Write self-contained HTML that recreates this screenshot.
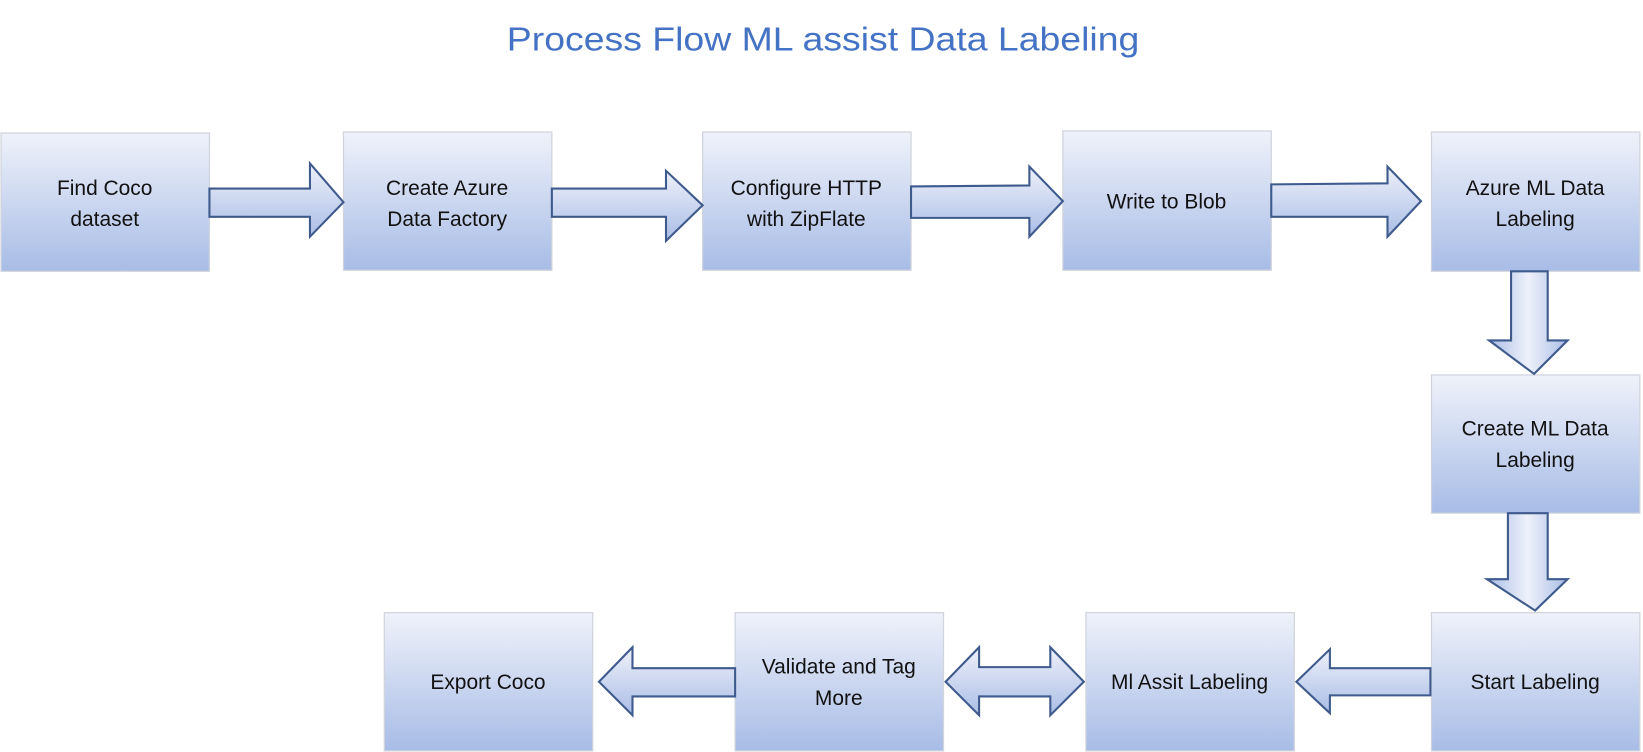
<!DOCTYPE html>
<html><head><meta charset="utf-8"><style>
html,body{margin:0;padding:0;background:#fff;}
svg{display:block;}
text{font-family:"Liberation Sans",sans-serif;}
</style></head><body>
<svg width="1643" height="752" viewBox="0 0 1569 718" xmlns="http://www.w3.org/2000/svg">
<defs>
<linearGradient id="bg" x1="0" y1="0" x2="0" y2="1">
<stop offset="0" stop-color="#eff2fa"/><stop offset="1" stop-color="#a8bce6"/>
</linearGradient>
<linearGradient id="ah" x1="0" y1="0" x2="0" y2="1">
<stop offset="0" stop-color="#eef1fa"/><stop offset="1" stop-color="#aabde6"/>
</linearGradient>
<linearGradient id="av" x1="0" y1="0" x2="1" y2="0">
<stop offset="0" stop-color="#aabde6"/><stop offset="0.5" stop-color="#eef1fa"/><stop offset="1" stop-color="#aabde6"/>
</linearGradient>
</defs>
<text x="786" y="48" font-size="32" fill="#4472c4" text-anchor="middle" textLength="604" lengthAdjust="spacingAndGlyphs">Process Flow ML assist Data Labeling</text>

<g fill="url(#bg)" stroke="#d0d4dc" stroke-width="1.2">
<rect x="1" y="127" width="199" height="132"/>
<rect x="328" y="126" width="199" height="132"/>
<rect x="671" y="126" width="199" height="132"/>
<rect x="1015" y="125" width="199" height="133"/>
<rect x="1367" y="126" width="199" height="133"/>
<rect x="1367" y="358" width="199" height="132"/>
<rect x="1367" y="585" width="199" height="132"/>
<rect x="1037" y="585" width="199" height="132"/>
<rect x="702" y="585" width="199" height="132"/>
<rect x="367" y="585" width="199" height="132"/>
</g>

<g stroke="#3f5a8c" stroke-width="2" stroke-linejoin="miter">
<polygon fill="url(#ah)" points="200,180 296,180 296,156 328,193 296,226 296,207 200,207"/>
<polygon fill="url(#ah)" points="527,180 636,180 636,163 671,196 636,230 636,207 527,207"/>
<polygon fill="url(#ah)" points="870,178 983,177 983,159 1015,192 983,226 983,208 870,208"/>
<polygon fill="url(#ah)" points="1214,176 1325,175 1325,159 1357,192 1325,226 1325,207 1214,207"/>
<polygon fill="url(#av)" points="1443,259 1478,259 1478,325 1497,325 1465,357 1422,325 1443,325"/>
<polygon fill="url(#av)" points="1440,490 1478,490 1478,553 1497,553 1466,583 1420,553 1440,553"/>
<polygon fill="url(#ah)" points="1366,638 1270,638 1270,620 1238,651 1270,681 1270,664 1366,664"/>
<polygon fill="url(#ah)" points="903,651 935,618 935,637 1003,637 1003,618 1035,651 1003,683 1003,665 935,665 935,683"/>
<polygon fill="url(#ah)" points="702,638 604,638 604,618 572,651 604,683 604,665 702,665"/>
</g>

<g font-size="20" fill="#111" text-anchor="middle">
<text x="100" y="186">Find Coco</text><text x="100" y="216">dataset</text>
<text x="427" y="186">Create Azure</text><text x="427" y="216">Data Factory</text>
<text x="770" y="186">Configure HTTP</text><text x="770" y="216">with ZipFlate</text>
<text x="1114" y="199">Write to Blob</text>
<text x="1466" y="186">Azure ML Data</text><text x="1466" y="216">Labeling</text>
<text x="1466" y="416">Create ML Data</text><text x="1466" y="446">Labeling</text>
<text x="1466" y="658">Start Labeling</text>
<text x="1136" y="658">Ml Assit Labeling</text>
<text x="801" y="643">Validate and Tag</text><text x="801" y="673">More</text>
<text x="466" y="658">Export Coco</text>
</g>
</svg>
</body></html>
